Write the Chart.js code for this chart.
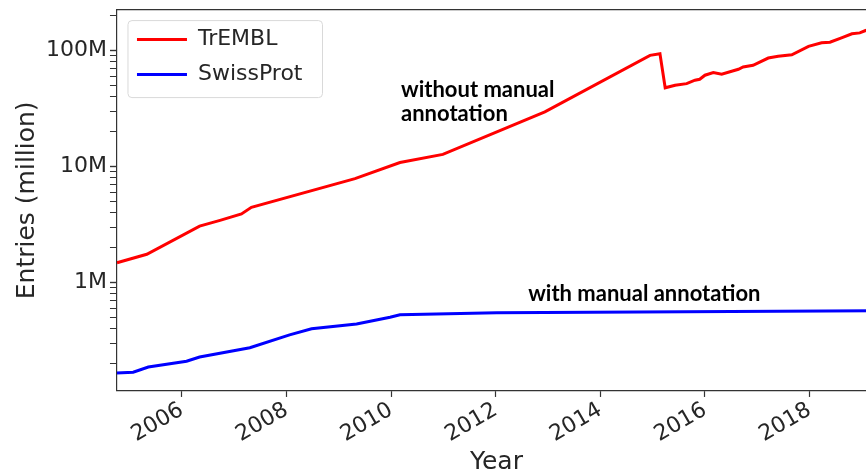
<!DOCTYPE html>
<html>
<head>
<meta charset="utf-8">
<script src="https://cdn.jsdelivr.net/npm/chart.js@4/dist/chart.umd.min.js"></script>
<style>
  html, body { margin: 0; padding: 0; background: #fff; overflow: hidden; }
  #wrap { width: 876px; height: 475px; position: relative; }
</style>
</head>
<body>
<div id="wrap"><canvas id="c"></canvas></div>
<script>
// ---- data (values in millions of entries) ----
const tremblYears = [2004.76, 2005.33, 2006.34, 2006.73, 2007.14, 2007.33, 2009.31, 2010.17, 2010.99, 2012.94,
                     2014.95, 2015.14, 2015.24, 2015.43, 2015.65, 2015.81, 2015.90, 2016.00, 2016.16, 2016.32,
                     2016.64, 2016.73, 2016.92, 2017.21, 2017.40, 2017.66, 2017.98, 2018.23, 2018.39, 2018.61,
                     2018.81, 2018.96, 2019.07, 2019.20];
const tremblValues = [1.48, 1.75, 3.06, 3.43, 3.90, 4.45, 7.85, 10.8, 12.7, 29.5,
                      90.6, 93.5, 47.6, 50.1, 51.7, 55.3, 56.4, 61.1, 64.3, 62.2,
                      68.7, 71.9, 74.4, 85.9, 88.9, 91.7, 108.2, 116.1, 117.7, 128.2,
                      138.8, 141.5, 148.3, 153.0];
const swissYears = [2004.75, 2005.07, 2005.36, 2006.09, 2006.34, 2007.30, 2008.06, 2008.48, 2009.34, 2009.98,
                    2010.17, 2012.02, 2019.20];
const swissValues = [0.166, 0.169, 0.187, 0.210, 0.228, 0.274, 0.354, 0.399, 0.440, 0.502,
                     0.528, 0.550, 0.570];
const seriesNames = ["TrEMBL", "SwissProt"];
const xTicks = [2006, 2008, 2010, 2012, 2014, 2016, 2018];
const yMajorTicks = [1, 10, 100];
const yTickLabels = ["1M", "10M", "100M"];
const annotations = [
  { lines: ["without manual", "annotation"], x: 2010.19, y: 45.7 },
  { lines: ["with manual annotation"], x: 2012.62, y: 0.80 }
];

const pts = (xs, ys) => xs.map((x, i) => ({ x: x, y: ys[i] }));
const INK = '#262626';

const extrasPlugin = {
  id: 'extras',
  afterUpdate(chart) {
    // place the legend inside the plot, slightly offset from the top-left corner
    const lg = chart.legend, ca = chart.chartArea;
    if (!lg) return;
    const dx = (ca.left + 7) - lg.left;
    const dy = (ca.top + 6) - lg.top;
    lg.left += dx; lg.right += dx; lg.top += dy; lg.bottom += dy;
    (lg.legendHitBoxes || []).forEach(h => { h.left += dx; h.top += dy; });
  },
  afterDraw(chart) {
    const { ctx, chartArea } = chart;
    ctx.save();
    // top spine
    ctx.strokeStyle = '#333';
    ctx.lineWidth = 1.2;
    ctx.beginPath();
    ctx.moveTo(chartArea.left, chartArea.top);
    ctx.lineTo(chartArea.right, chartArea.top);
    ctx.stroke();
    // legend frame
    const hb = chart.legend && chart.legend.legendHitBoxes;
    if (hb && hb.length) {
      let l = Infinity, t = Infinity, r = -Infinity, b = -Infinity;
      hb.forEach(h => { l = Math.min(l, h.left); t = Math.min(t, h.top); r = Math.max(r, h.left + h.width); b = Math.max(b, h.top + h.height); });
      l -= 9; t -= 8; r += 20; b += 12;
      const rad = 4;
      ctx.strokeStyle = '#d9d9d9';
      ctx.lineWidth = 1;
      ctx.beginPath();
      ctx.moveTo(l + rad, t);
      ctx.arcTo(r, t, r, b, rad);
      ctx.arcTo(r, b, l, b, rad);
      ctx.arcTo(l, b, l, t, rad);
      ctx.arcTo(l, t, r, t, rad);
      ctx.closePath();
      ctx.stroke();
    }
    // annotations
    const xs = chart.scales.x, ys = chart.scales.y;
    ctx.fillStyle = '#000';
    ctx.font = 'bold 22px Lato';
    ctx.textAlign = 'left';
    ctx.textBaseline = 'middle';
    annotations.forEach(a => {
      const px = xs.getPixelForValue(a.x);
      const py = ys.getPixelForValue(a.y);
      a.lines.forEach((s, i) => ctx.fillText(s, px, py + i * 24));
    });
    ctx.restore();
  }
};

new Chart(document.getElementById('c'), {
  type: 'line',
  data: {
    datasets: [
      { label: seriesNames[0], data: pts(tremblYears, tremblValues), borderColor: '#ff0000', backgroundColor: '#ff0000',
        borderWidth: 3, pointRadius: 0, tension: 0 },
      { label: seriesNames[1], data: pts(swissYears, swissValues), borderColor: '#0000ff', backgroundColor: '#0000ff',
        borderWidth: 3, pointRadius: 0, tension: 0 }
    ]
  },
  options: {
    responsive: true,
    maintainAspectRatio: false,
    animation: false,
    layout: { padding: { left: 12, right: 0, top: 0, bottom: 0 } },
    plugins: {
      tooltip: { enabled: false },
      legend: {
        position: 'chartArea',
        align: 'start',
        labels: {
          usePointStyle: true,
          pointStyle: 'line',
          pointStyleWidth: 50,
          padding: 13,
          color: INK,
          font: { family: 'DejaVu Sans', size: 22 }
        }
      }
    },
    scales: {
      x: {
        type: 'linear',
        min: 2004.76,
        max: 2019.27,
        afterBuildTicks: (axis) => { axis.ticks = xTicks.map(v => ({ value: v })); },
        ticks: {
          autoSkip: false,
          minRotation: 30,
          maxRotation: 30,
          color: INK,
          font: { family: 'DejaVu Sans', size: 22, lineHeight: 1 },
          padding: 2,
          callback: (v) => String(v)
        },
        grid: { drawOnChartArea: false, drawTicks: true, tickLength: 6, tickColor: '#333', tickWidth: 1.2 },
        border: { display: true, color: '#333', width: 1.2 },
        title: { display: true, text: 'Year', color: INK, font: { family: 'DejaVu Sans', size: 25, lineHeight: 1 }, padding: { top: 2, bottom: 0 } }
      },
      y: {
        type: 'logarithmic',
        min: 0.1164,
        max: 224.5,
        afterBuildTicks: (axis) => {
          const t = [];
          [0.1, 1, 10, 100].forEach(base => {
            for (let k = 1; k <= 9; k++) {
              const v = +(k * base).toPrecision(3);
              if (v >= axis.min && v <= axis.max) t.push({ value: v });
            }
          });
          axis.ticks = t;
        },
        ticks: {
          autoSkip: false,
          color: INK,
          font: { family: 'DejaVu Sans', size: 22, lineHeight: 0.6 },
          padding: 3,
          callback: (v) => { const i = yMajorTicks.indexOf(v); return i >= 0 ? yTickLabels[i] : ''; }
        },
        grid: {
          drawOnChartArea: false, drawTicks: true, tickLength: 7, tickColor: '#333',
          tickWidth: (c) => yMajorTicks.indexOf(c.tick && c.tick.value) >= 0 ? 1.4 : 1
        },
        border: { display: true, color: '#333', width: 1.2 },
        title: { display: true, text: 'Entries (million)', color: INK, font: { family: 'DejaVu Sans', size: 25 }, padding: { top: 0, bottom: 1 } }
      }
    }
  },
  plugins: [extrasPlugin]
});
</script>
</body>
</html>
